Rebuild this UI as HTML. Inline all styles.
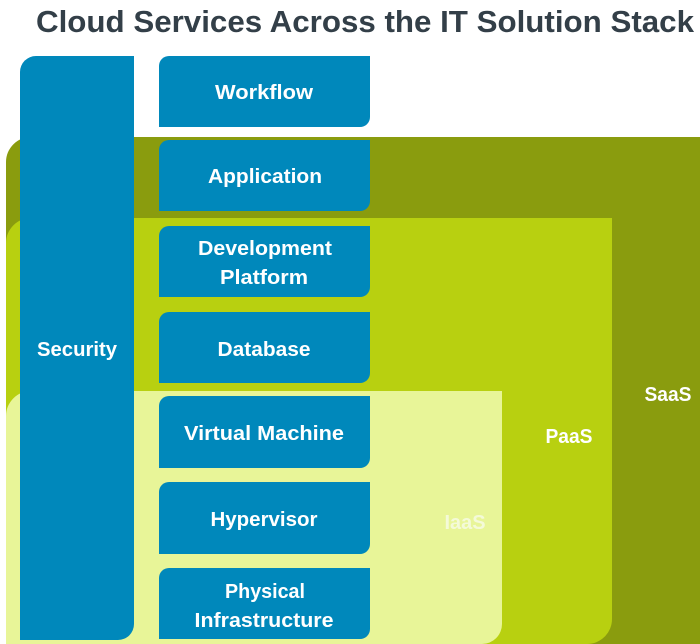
<!DOCTYPE html>
<html><head><meta charset="utf-8"><style>
html,body{margin:0;padding:0;background:#fff;width:700px;height:644px;overflow:hidden}
svg{display:block}
text{font-family:"Liberation Sans",sans-serif;font-weight:bold}
</style></head><body>
<svg width="700" height="644" viewBox="0 0 700 644" xmlns="http://www.w3.org/2000/svg">
<text x="365" y="32" text-anchor="middle" font-size="31" fill="#333f48" textLength="658" lengthAdjust="spacingAndGlyphs">Cloud Services Across the IT Solution Stack</text>
<path d="M31,137 H700 V644 H6 V162 A25,25 0 0 1 31,137 Z" fill="#8a9c0e"/>
<path d="M31,218 H612 V619 A25,25 0 0 1 587,644 H6 V243 A25,25 0 0 1 31,218 Z" fill="#b8d010"/>
<path d="M31,391 H502 V624 A20,20 0 0 1 482,644 H6 V416 A25,25 0 0 1 31,391 Z" fill="#e8f598"/>
<path d="M36,56 H134 V624 A16,16 0 0 1 118,640 H20 V72 A16,16 0 0 1 36,56 Z" fill="#0088bb"/>
<g fill="#0088bb">
<path d="M169,56 H370 V117 A10,10 0 0 1 360,127 H159 V66 A10,10 0 0 1 169,56 Z"/>
<path d="M169,140 H370 V201 A10,10 0 0 1 360,211 H159 V150 A10,10 0 0 1 169,140 Z"/>
<path d="M169,226 H370 V287 A10,10 0 0 1 360,297 H159 V236 A10,10 0 0 1 169,226 Z"/>
<path d="M169,312 H370 V373 A10,10 0 0 1 360,383 H159 V322 A10,10 0 0 1 169,312 Z"/>
<path d="M169,396 H370 V458 A10,10 0 0 1 360,468 H159 V406 A10,10 0 0 1 169,396 Z"/>
<path d="M169,482 H370 V544 A10,10 0 0 1 360,554 H159 V492 A10,10 0 0 1 169,482 Z"/>
<path d="M169,568 H370 V629 A10,10 0 0 1 360,639 H159 V578 A10,10 0 0 1 169,568 Z"/>
</g>
<g fill="#fff" font-size="20" text-anchor="middle" lengthAdjust="spacingAndGlyphs">
<text x="77" y="356" textLength="80" lengthAdjust="spacingAndGlyphs">Security</text>
<text x="264" y="99" textLength="98" lengthAdjust="spacingAndGlyphs">Workflow</text>
<text x="265" y="183" textLength="114" lengthAdjust="spacingAndGlyphs">Application</text>
<text x="265" y="255" textLength="134" lengthAdjust="spacingAndGlyphs">Development</text>
<text x="264" y="284" textLength="88" lengthAdjust="spacingAndGlyphs">Platform</text>
<text x="264" y="356" textLength="93" lengthAdjust="spacingAndGlyphs">Database</text>
<text x="264" y="440" textLength="160" lengthAdjust="spacingAndGlyphs">Virtual Machine</text>
<text x="264" y="526" textLength="107" lengthAdjust="spacingAndGlyphs">Hypervisor</text>
<text x="265" y="598" textLength="80" lengthAdjust="spacingAndGlyphs">Physical</text>
<text x="264" y="627" textLength="139" lengthAdjust="spacingAndGlyphs">Infrastructure</text>
<text x="668" y="401" textLength="47" lengthAdjust="spacingAndGlyphs">SaaS</text>
<text x="569" y="443" textLength="47" lengthAdjust="spacingAndGlyphs">PaaS</text>
<text x="465" y="529" fill="#f4fad8" textLength="41" lengthAdjust="spacingAndGlyphs">IaaS</text>
</g>
</svg>
</body></html>
